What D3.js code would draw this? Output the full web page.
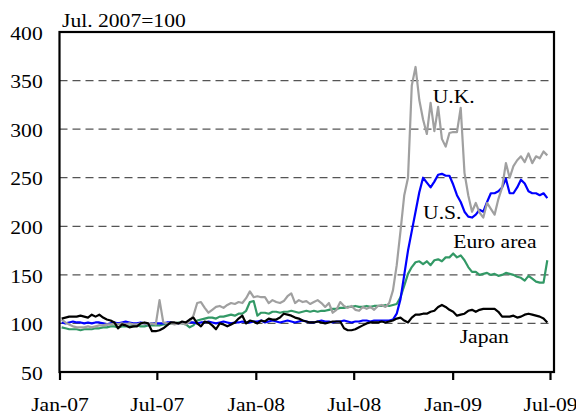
<!DOCTYPE html>
<html>
<head>
<meta charset="utf-8">
<script src="https://cdn.jsdelivr.net/npm/d3@7"></script>
<style>
body { margin: 0; background: #fff; }
text { font-family: "Liberation Serif", "Times New Roman", serif; font-size: 18px; fill: #000; }
</style>
</head>
<body>
<div id="myDiv"></div>
<script>
// weekly index levels, Jul. 2007 = 100
var dates = d3.timeFriday.range(new Date(2007, 0, 5), new Date(2009, 5, 27));

var us_data = [101, 100, 101, 102, 101, 101, 100, 101, 100, 101, 101, 100, 99, 100, 101, 100, 101, 102, 101, 100, 100, 101, 100, 99, 100, 100,
    100, 100, 101, 101, 100, 100, 101, 100, 101, 101, 100, 101, 101, 102, 101, 100, 101, 102, 101, 100, 101, 101, 102, 101, 101, 102,
    102, 103, 101, 102, 103, 102, 101, 102, 103, 102, 101, 102, 103, 102, 101, 101, 102, 103, 102, 102, 101, 102, 102, 103, 102, 101, 102, 102, 103, 103, 102, 103, 103,
    103, 103, 103, 104, 110, 125, 150, 175, 195, 215, 235, 250, 245, 240, 246, 253, 254, 252, 252, 243, 232, 225, 215, 210, 209, 212, 217, 215, 225,
    234, 234, 236, 240, 249, 234, 234, 240, 248, 244, 236, 234, 234, 232, 234, 229];

var uk_data = [104, 101, 99, 97, 96, 96, 96, 97, 96, 97, 98, 98, 99, 99, 100, 99, 100, 99, 100, 99, 99, 100, 100, 99, 100, 99,
    124, 101, 100, 100, 99, 100, 100, 99, 102, 108, 121, 122, 116, 111, 114, 117, 118, 116, 119, 121, 120, 122, 121, 126, 133, 127,
    128, 127, 127, 121, 124, 122, 121, 123, 128, 131, 121, 124, 122, 123, 120, 122, 124, 121, 117, 121, 111, 114, 122, 118, 116, 118,
    114, 113, 117, 115, 117, 114, 118, 119, 117, 121, 134, 160, 195, 232, 250, 345, 364, 330, 310, 295, 327, 298, 323, 290, 282, 296,
    297, 297, 322, 255, 232, 215, 224, 214, 209, 224, 218, 212, 228, 240, 265, 250, 262, 268, 272, 266, 275, 265, 272, 270, 277, 273];

var euro_data = [96, 95, 94, 94, 94, 93, 94, 94, 94, 95, 95, 96, 96, 97, 97, 96, 97, 97, 97, 97, 98, 97, 97, 98, 98, 98,
    98, 99, 99, 100, 100, 101, 100, 99, 96, 98, 103, 104, 105, 106, 106, 105, 107, 107, 108, 109, 108, 110, 110, 113, 122, 123,
    108, 111, 111, 110, 112, 112, 111, 112, 112, 113, 112, 111, 112, 113, 112, 113, 112, 113, 113, 114, 115, 115, 116, 116, 117, 117,
    118, 117, 117, 118, 117, 118, 118, 118, 119, 118, 119, 120, 127, 139, 151, 158, 163, 164, 161, 164, 160, 165, 166, 164, 168, 168,
    172, 168, 170, 165, 158, 153, 153, 150, 151, 152, 150, 151, 149, 150, 152, 151, 150, 148, 147, 144, 149, 146, 143, 142, 142, 165];

var japan_data = [105, 106, 107, 107, 107, 108, 107, 106, 109, 107, 109, 106, 104, 103, 101, 95, 99, 98, 96, 97, 97, 100, 101, 100, 92, 92,
    93, 95, 98, 101, 101, 100, 102, 101, 104, 106, 100, 97, 102, 101, 98, 94, 100, 99, 97, 99, 101, 105, 108, 100, 103, 102,
    100, 103, 102, 105, 104, 104, 106, 110, 109, 108, 106, 105, 103, 102, 101, 101, 102, 101, 100, 101, 102, 102, 102, 95, 93, 93,
    94, 96, 98, 100, 101, 101, 101, 102, 101, 102, 103, 105, 106, 103, 101, 106, 109, 109, 110, 110, 112, 113, 117, 119, 117, 114,
    112, 108, 109, 110, 113, 114, 112, 114, 115, 115, 115, 115, 112, 107, 107, 107, 108, 106, 107, 109, 110, 109, 108, 107, 105, 101];

var series_names = ["Euro area", "U.S.", "U.K.", "Japan"];
var series_colors = ["#339966", "#0000ff", "#a0a0a0", "#000000"];
var series_data = [euro_data, us_data, uk_data, japan_data];

// labels placed at (date, value)
var label_names = ["U.K.", "U.S.", "Euro area", "Japan"];
var label_dates = [new Date(2008, 10, 25), new Date(2008, 10, 7), new Date(2009, 0, 2), new Date(2009, 0, 14)];
var label_values = [327, 208, 178, 80];

var tick_dates = [new Date(2007, 0, 1), new Date(2007, 6, 1), new Date(2008, 0, 1), new Date(2008, 6, 1), new Date(2009, 0, 1), new Date(2009, 6, 1)];
var tick_labels = ["Jan-07", "Jul-07", "Jan-08", "Jul-08", "Jan-09", "Jul-09"];
var y_ticks = [50, 100, 150, 200, 250, 300, 350, 400];

var width = 576, height = 416;
var pLeft = 59.5, pRight = 554, pTop = 32, pBottom = 372;
var sx = "scale(1.2,1)";

var x = d3.scaleTime().domain([tick_dates[0], tick_dates[5]]).range([pLeft, 550]);
var y = d3.scaleLinear().domain([50, 400]).range([pBottom, pTop]);

var svg = d3.select("#myDiv").append("svg").attr("width", width).attr("height", height);

// dashed grid
svg.append("g").selectAll("line").data(y_ticks.slice(1, -1)).enter().append("line")
    .attr("x1", pLeft).attr("x2", pRight)
    .attr("y1", function(d) { return y(d); }).attr("y2", function(d) { return y(d); })
    .attr("stroke", "#555").attr("stroke-width", 1.2).attr("stroke-dasharray", "8,5");

var line = d3.line()
    .x(function(d, i) { return x(dates[i]); })
    .y(function(d) { return y(d); });

svg.append("g").selectAll("path").data(series_data).enter().append("path")
    .attr("d", line)
    .attr("fill", "none")
    .attr("stroke", function(d, i) { return series_colors[i]; })
    .attr("stroke-width", 2.2)
    .attr("stroke-linejoin", "round");

// frame
svg.append("rect").attr("x", pLeft).attr("y", pTop).attr("width", pRight - pLeft).attr("height", pBottom - pTop)
    .attr("fill", "none").attr("stroke", "#000").attr("stroke-width", 2.2);

var xAxis = svg.append("g").attr("transform", "translate(0," + pBottom + ")")
    .call(d3.axisBottom(x).tickValues(tick_dates).tickSize(8).tickFormat(function(d, i) { return tick_labels[i]; }));
xAxis.select(".domain").remove();
xAxis.selectAll("line").attr("stroke", "#000").attr("stroke-width", 2.2);
xAxis.selectAll("text").attr("y", 26).attr("transform", sx);

var yAxis = svg.append("g").attr("transform", "translate(" + pLeft + ",0)")
    .call(d3.axisLeft(y).tickValues(y_ticks).tickSize(0));
yAxis.select(".domain").remove();
yAxis.selectAll("text").attr("x", -14).attr("dy", "0.4em").attr("transform", sx);
xAxis.attr("font-size", null).attr("font-family", null);
yAxis.attr("font-size", null).attr("font-family", null);

svg.append("text").attr("transform", "translate(62,27) " + sx).text("Jul. 2007=100");

svg.append("g").selectAll("text").data(label_names).enter().append("text")
    .attr("transform", function(d, i) { return "translate(" + x(label_dates[i]) + "," + y(label_values[i]) + ") " + sx; })
    .text(function(d) { return d; });
</script>
</body>
</html>
